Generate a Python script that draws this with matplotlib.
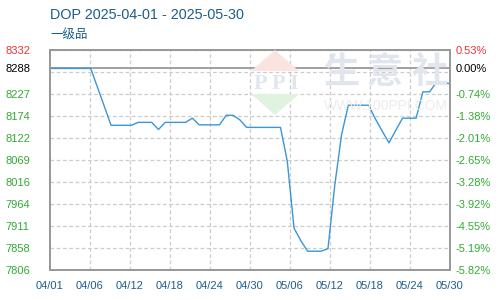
import numpy as np
import matplotlib
matplotlib.use("Agg")
from matplotlib import pyplot as plt
from matplotlib.patches import Polygon

# daily prices, 2025-04-01 .. 2025-05-30 (day index 0..59)
prices = [8288, 8288, 8288, 8288, 8288, 8288, 8288, 8243, 8198, 8152,
          8152, 8152, 8152, 8159, 8159, 8159, 8142, 8159, 8159, 8159,
          8159, 8169, 8153, 8153, 8153, 8153, 8176, 8176, 8165, 8147,
          8147, 8147, 8147, 8147, 8147, 8066, 7906, 7876, 7851, 7851,
          7851, 7857, 8008, 8129, 8200, 8200, 8200, 8200, 8167, 8138,
          8110, 8140, 8169, 8169, 8169, 8232, 8232, 8255, 8255, 8251]
days = np.arange(len(prices))

date_labels = ["04/01", "04/06", "04/12", "04/18", "04/24", "04/30",
               "05/06", "05/12", "05/18", "05/24", "05/30"]
base = 8288
y_min, y_max = 7806, 8332
left_labels = ["7806", "7858", "7911", "7964", "8016", "8069", "8122",
               "8174", "8227", "8288", "8332"]
right_labels = ["-5.82%", "-5.19%", "-4.55%", "-3.92%", "-3.28%", "-2.65%",
                "-2.01%", "-1.38%", "-0.74%", "0.00%", "0.53%"]

title_col = "#1d5d8c"
green = "#33aa33"
red = "#ee3333"
grid_col = "#cccccc"
frame_col = "#999999"

fig = plt.figure(figsize=(5, 3), dpi=100)
ax = fig.add_axes([0.1, 0.1, 0.8, 0.7333])

# watermark (figure pixel coords -> fraction)
def fx(px):
    return px / 500

def fy(py):
    return 1 - py / 300

fig.patches.append(Polygon([(fx(251), fy(71)), (fx(275), fy(50)), (fx(299), fy(71))],
                           closed=True, transform=fig.transFigure,
                           facecolor="#fbe3e0", edgecolor="none", zorder=0))
fig.patches.append(Polygon([(fx(251), fy(94)), (fx(299), fy(94)), (fx(275), fy(115))],
                           closed=True, transform=fig.transFigure,
                           facecolor="#e0f3e1", edgecolor="none", zorder=0))
fig.text(fx(276), fy(84), "P P I", ha="center", va="center", fontsize=16,
         fontweight="bold", color="#dfe6f0", family="Liberation Serif", zorder=0)
for cx, ch in zip([342, 385, 429], "生意社"):
    fig.text(fx(cx), fy(72), ch, ha="center", va="center", fontsize=26,
             fontweight="bold", color="#e1e5ee",
             family=["Noto Sans CJK SC", "DejaVu Sans"], zorder=0)
fig.text(fx(386), fy(106), "WWW.100PPI.COM", ha="center", va="center", fontsize=10,
         color="#ececec", family="Liberation Sans", zorder=0)
ax.patch.set_alpha(0)

tick_pos = np.linspace(y_min, y_max, 11)
for yv in tick_pos:
    ax.axhline(yv, color=grid_col, lw=0.9, ls=(0, (3, 2)), zorder=1)
for xv in np.linspace(0, 59, 11)[1:-1]:
    ax.axvline(xv, color=grid_col, lw=0.9, ls=(0, (3, 2)), zorder=1)
ax.axhline(base, color=frame_col, lw=1.3, zorder=2)

ax.plot(days, prices, color="#3a96d6", lw=1.0, zorder=3)

ax.set_xlim(0, 59)
ax.set_ylim(y_min, y_max)
ax.set_xticks(np.linspace(0, 59, 11))
ax.set_xticklabels(date_labels, color=title_col, family="Liberation Sans", fontsize=8)

label_pos = list(tick_pos[:9]) + [base, y_max]
ax.set_yticks(label_pos)
ax.set_yticklabels(left_labels, family="Liberation Sans", fontsize=8, ha="left")
ax.tick_params(axis="y", length=0, pad=32)
ax.tick_params(axis="x", length=0, pad=8)
for i, t in enumerate(ax.get_yticklabels()):
    t.set_color(red if i == 10 else ("black" if i == 9 else green))

ax2 = ax.twinx()
ax2.set_ylim(y_min, y_max)
ax2.set_yticks(label_pos)
ax2.set_yticklabels(right_labels, family="Liberation Sans", fontsize=8)
ax2.tick_params(axis="y", length=0, pad=4)
for i, t in enumerate(ax2.get_yticklabels()):
    t.set_color(red if i == 10 else ("black" if i == 9 else green))

for a in (ax, ax2):
    for s in a.spines.values():
        s.set_color(frame_col)
        s.set_linewidth(1.3)

fig.text(fx(50), fy(15), "DOP 2025-04-01 - 2025-05-30", ha="left", va="center",
         fontsize=10.4, color=title_col, family="Liberation Sans")
fig.text(fx(50), fy(35), "一级品", ha="left", va="center", fontsize=9,
         color=title_col, family=["Noto Sans CJK SC", "DejaVu Sans"])

fig.savefig("out.png", dpi=100)
plt.close()
